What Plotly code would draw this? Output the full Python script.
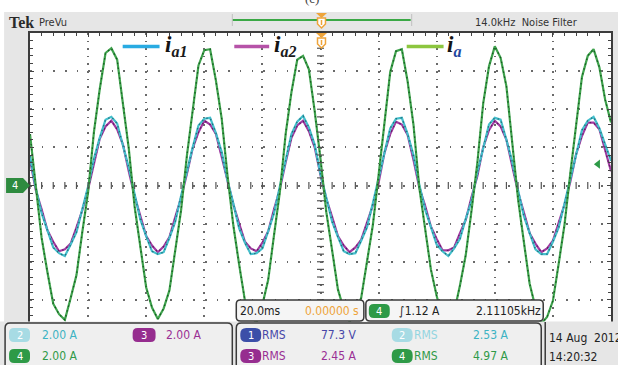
import plotly.graph_objects as go

# ---------------- data ----------------
T_START_MS = -100          # left edge of the screen (trigger at centre)
T_STEP_MS = 2              # sample spacing of the values below

# ch4 : i_a  (A)
ia = [2.7, -0.2, -2.75, -4.55, -6.2, -6.75, -7.05, -5.9, -4.7, -2.45,
      -0.35, 2.8, 5.05, 6.95, 7.2, 6.6, 4.4, 1.95, -1.1, -3.2,
      -5.35, -6.4, -7.0, -6.45, -5.5, -3.4, -1.3, 1.55, 4.05, 6.3,
      7.1, 7.15, 5.5, 3.5, 0.5, -2.1, -4.15, -6.05, -6.85, -7.2,
      -6.25, -4.95, -2.6, -0.35, 2.7, 4.9, 6.6, 6.8, 6.1, 3.9,
      1.4, -1.4, -3.4, -5.45, -6.5, -7.15, -6.7, -5.9, -4.0, -2.1,
      0.55, 3.4, 5.95, 7.05, 7.15, 5.45, 3.2, -0.1, -2.2, -4.4,
      -5.8, -6.95, -7.0, -6.65, -5.25, -3.65, -1.3, 1.2, 4.3, 6.25,
      7.3, 6.7, 5.2, 2.25, -0.7, -2.95, -5.15, -6.4, -7.25, -6.9,
      -6.05, -4.1, -2.05, 0.65, 3.25, 5.7, 6.8, 7.15, 6.2, 4.5,
      3.3]

# ch2 : i_a1 (A)
ia1 = [1.55, -0.15, -1.45, -2.35, -3.25, -3.55, -3.7, -3.1, -2.45, -1.25,
       -0.05, 1.4, 2.5, 3.45, 3.6, 3.25, 2.15, 0.95, -0.45, -1.8,
       -2.65, -3.45, -3.6, -3.5, -2.75, -1.9, -0.55, 0.8, 2.0, 3.15,
       3.5, 3.55, 2.75, 1.75, 0.25, -0.95, -2.25, -3.0, -3.6, -3.55,
       -3.3, -2.4, -1.45, -0.05, 1.3, 2.7, 3.35, 3.65, 3.05, 2.15,
       0.6, -0.6, -1.9, -2.7, -3.45, -3.6, -3.55, -2.9, -2.2, -0.95,
       0.3, 1.7, 3.0, 3.5, 3.55, 2.7, 1.6, 0.05, -1.25, -2.15,
       -3.1, -3.45, -3.7, -3.3, -2.8, -1.75, -0.8, 0.7, 2.0, 3.2,
       3.55, 3.45, 2.4, 1.25, -0.25, -1.6, -2.5, -3.35, -3.6, -3.6,
       -2.95, -2.2, -0.95, 0.35, 1.65, 2.9, 3.4, 3.6, 3.0, 2.2,
       1.3]

# ch3 : i_a2 (A)
ia2 = [1.35, -0.25, -1.25, -2.35, -2.95, -3.45, -3.35, -3.05, -2.2, -1.3,
       -0.2, 1.2, 2.45, 3.1, 3.4, 2.95, 2.15, 0.75, -0.55, -1.6,
       -2.65, -3.15, -3.5, -3.2, -2.7, -1.65, -0.65, 0.6, 1.95, 2.8,
       3.4, 3.2, 2.7, 1.5, 0.2, -1.0, -2.0, -2.95, -3.3, -3.45,
       -3.0, -2.4, -1.25, -0.2, 1.2, 2.5, 3.15, 3.4, 2.85, 2.0,
       0.55, -0.7, -1.65, -2.65, -3.15, -3.5, -3.25, -2.85, -1.95, -1.05,
       0.15, 1.7, 2.7, 3.35, 3.2, 2.65, 1.35, -0.1, -1.05, -2.15,
       -2.8, -3.4, -3.4, -3.25, -2.5, -1.8, -0.6, 0.5, 2.0, 2.9,
       3.4, 3.1, 2.4, 1.0, -0.35, -1.4, -2.5, -3.05, -3.5, -3.3,
       -2.9, -1.95, -1.0, 0.2, 1.65, 2.6, 3.3, 3.3, 2.95, 1.85,
       0.75]

t_ms = [T_START_MS + T_STEP_MS * k for k in range(len(ia))]

TIME_PER_DIV_MS = 20.0
AMP_PER_DIV = 2.0
N_DIV_X, N_DIV_Y = 10, 8
TRIGGER_LEVEL_A = 1.12

legend_names = ["a1", "a2", "a"]
scale_labels = ["2.00 A", "2.00 A", "2.00 A"]          # ch2, ch3, ch4
meas_labels = ["77.3 V", "2.53 A", "2.45 A", "4.97 A"]  # ch1..ch4 RMS
header_right = "14.0kHz  Noise Filter"
timebase_label = "20.0ms"
position_label = "0.00000 s"
trigger_label = "∫1.12 A"
freq_label = "2.11105kHz"
date_label = "14 Aug  2012"
time_label = "14:20:32"

# ---------------- styling ----------------
W, H = 618, 365
L, R, T, B = 30, 613, 33, 338   # plot-area pixel box
UI = "Liberation Sans Narrow, DejaVu Sans Condensed, Arial Narrow, sans-serif"
SERIF = "Liberation Serif, Times New Roman, DejaVu Serif, serif"

BG_GRAY = "#e6e6e6"
PANEL = "#efefef"
BORDER = "#3a3a3a"
ORANGE = "#eea43a"
C_GREEN, C_GREEN_DK = "#3fa34d", "#0f4f1a"
C_CYAN, C_CYAN_DK = "#44bfcc", "#1d6470"
C_PURP, C_PURP_DK = "#a23ba3", "#521854"
B_BLUE, B_CYAN, B_PURP, B_GREEN = "#3b4fa8", "#a7dbe4", "#962d8f", "#2e9a47"
T_BLUE, T_CYAN, T_CYANL, T_PURP, T_GREEN = "#4747a8", "#3cb3c3", "#93d5e0", "#9a2f94", "#2f9a48"


def px(x):
    return (x - L) / (R - L)


def py(y):
    return (B - y) / (B - T)


def P(x, y):
    return f"{px(x):.5f},{py(y):.5f}"


def rr_path(x0, y0, x1, y1, r):
    return (f"M{P(x0 + r, y0)} L{P(x1 - r, y0)} Q{P(x1, y0)} {P(x1, y0 + r)} "
            f"L{P(x1, y1 - r)} Q{P(x1, y1)} {P(x1 - r, y1)} L{P(x0 + r, y1)} "
            f"Q{P(x0, y1)} {P(x0, y1 - r)} L{P(x0, y0 + r)} Q{P(x0, y0)} {P(x0 + r, y0)} Z")


def poly_path(pts):
    return "M" + " L".join(P(x, y) for x, y in pts) + " Z"


shapes = []
annotations = []


def add_rrect(x0, y0, x1, y1, r, fill, line=None, lw=0):
    shapes.append(dict(type="path", path=rr_path(x0, y0, x1, y1, r), xref="paper", yref="paper",
                       fillcolor=fill, line=dict(color=line or fill, width=lw), layer="above"))


def add_rect(x0, y0, x1, y1, fill, layer="above"):
    shapes.append(dict(type="rect", x0=px(x0), x1=px(x1), y0=py(y1), y1=py(y0), xref="paper",
                       yref="paper", fillcolor=fill, line=dict(width=0), layer=layer))


def add_poly(pts, fill, line=None, lw=0):
    shapes.append(dict(type="path", path=poly_path(pts), xref="paper", yref="paper",
                       fillcolor=fill, line=dict(color=line or fill, width=lw), layer="above"))


def add_line(x0, y0, x1, y1, color, width):
    shapes.append(dict(type="line", x0=px(x0), x1=px(x1), y0=py(y0), y1=py(y1), xref="paper",
                       yref="paper", line=dict(color=color, width=width), layer="above"))


def txt(x, y, s, size, color, family=UI, xanchor="left", yanchor="middle"):
    annotations.append(dict(x=px(x), y=py(y), xref="paper", yref="paper", text=s, showarrow=False,
                            font=dict(size=size, color=color, family=family),
                            xanchor=xanchor, yanchor=yanchor))


fig = go.Figure()

# waveforms: coloured trace + darker speckle on top
for yv, col, dk in [(ia2, C_PURP, C_PURP_DK), (ia1, C_CYAN, C_CYAN_DK), (ia, C_GREEN, C_GREEN_DK)]:
    fig.add_trace(go.Scatter(x=t_ms, y=yv, mode="lines", line=dict(color=col, width=2.2),
                             hoverinfo="skip"))
    fig.add_trace(go.Scatter(x=t_ms, y=yv, mode="lines", line=dict(color=dk, width=1.3, dash="1.5px,3.5px"),
                             opacity=0.85, hoverinfo="skip"))

half_x = TIME_PER_DIV_MS * N_DIV_X / 2
half_y = AMP_PER_DIV * N_DIV_Y / 2

# centre cross-hair minor marks
ctr_y = [-half_y + AMP_PER_DIV / 5 * k for k in range(N_DIV_Y * 5 + 1)]
ctr_x = [-half_x + TIME_PER_DIV_MS / 5 * k for k in range(N_DIV_X * 5 + 1)]
fig.add_trace(go.Scatter(x=[0] * len(ctr_y), y=ctr_y, mode="markers", hoverinfo="skip",
                         marker=dict(symbol="line-ew", size=5, line=dict(width=1.2, color="#555"))))
fig.add_trace(go.Scatter(x=ctr_x, y=[0] * len(ctr_x), mode="markers", hoverinfo="skip",
                         marker=dict(symbol="line-ns", size=5, line=dict(width=1.2, color="#555"))))

# trigger-level arrow on the right edge
fig.add_trace(go.Scatter(x=[half_x * 0.955], y=[TRIGGER_LEVEL_A], mode="markers", hoverinfo="skip",
                         marker=dict(symbol="triangle-left", size=8, color=B_GREEN)))

axis_common = dict(showline=True, linecolor="#3c3c3c", linewidth=2, mirror="allticks",
                   ticks="inside", ticklen=4, tickwidth=1, tickcolor="#444",
                   showticklabels=False, zeroline=False, gridcolor="#6a6a6a", gridwidth=1.6)

fig.update_layout(
    width=W, height=H,
    margin=dict(l=L, r=W - R, t=T, b=H - B, pad=0),
    paper_bgcolor=BG_GRAY, plot_bgcolor="white",
    showlegend=False,
    xaxis=dict(range=[-half_x, half_x], dtick=TIME_PER_DIV_MS, tick0=-half_x,
               griddash="1.6px,6.02px",
               minor=dict(ticks="inside", ticklen=3, dtick=TIME_PER_DIV_MS / 5, tick0=-half_x,
                          tickcolor="#444", showgrid=False),
               **axis_common),
    yaxis=dict(range=[-half_y, half_y], dtick=AMP_PER_DIV, tick0=-half_y,
               griddash="1.6px,10.06px",
               minor=dict(ticks="inside", ticklen=3, dtick=AMP_PER_DIV / 5, tick0=-half_y,
                          tickcolor="#444", showgrid=False),
               **axis_common),
)

# ---- page furniture ----
add_rect(0, -5, W + 5, 12, "white")          # white strip on top
add_rect(-5, -5, 4, H + 5, "white")          # white strip on left
txt(313, -2, "(c)", 13, "#444", SERIF, xanchor="center")

# header
txt(7, 22, "<b>Tek</b>", 16, "#2a2a2a", SERIF)
txt(37, 23, "PreVu", 11, "#333")
txt(475, 22, header_right, 11, "#333")
add_line(233, 20, 412, 20, "#3aa845", 2)
add_line(233, 14, 233, 26, "#c0c0c0", 1)
add_line(413, 14, 413, 26, "#c0c0c0", 1)
for top in (13, 33):
    add_poly([(317, top), (328, top), (322.5, top + 5)], ORANGE)
    add_poly([(318.5, top + 5), (326.5, top + 5), (326.5, top + 11), (322.5, top + 15), (318.5, top + 11)],
             "white", ORANGE, 1.5)
    add_line(322.5, top + 7, 322.5, top + 12, ORANGE, 1.5)

# legend inside graticule
leg = [(123, 160, "#29abe2", 163, legend_names[0], "#1a1a1a"),
       (235, 270, "#b653a8", 273, legend_names[1], "#1a1a1a"),
       (408, 445, "#8cc63f", 446, legend_names[2], "#1f47a0")]
for x0, x1, col, xt, sub, subcol in leg:
    add_line(x0, 46.5, x1, 46.5, col, 3.5)
    txt(xt, 46, f"<b><i>i</i></b><sub><b><i><span style='color:{subcol}'>{sub}</span></i></b></sub>",
        23, "#141414", SERIF)

# ch4 ground marker
add_poly([(6, 178), (23, 178), (30, 185.5), (23, 193), (6, 193)], "#2e8b3f")
txt(15, 185.5, "4", 11, "white", xanchor="center")

# bottom gray area + panels
add_rect(-5, 321.5, W + 5, H + 5, BG_GRAY)
add_rrect(5, 323, 233, 372, 5, PANEL, BORDER, 1.5)
add_rrect(237, 323, 543, 372, 5, PANEL, BORDER, 1.5)
add_line(547, 322, 547, H + 2, BORDER, 1.5)
add_rrect(237, 300, 365, 321, 4, "#f5f5f5", BORDER, 1.5)
add_rrect(367, 300, 545, 321, 4, "#f5f5f5", BORDER, 1.5)

# timebase / trigger boxes
txt(239, 311, timebase_label, 12, "#222")
txt(362, 311, position_label, 12, ORANGE, xanchor="right")
add_rrect(370, 304, 391, 318, 5, B_GREEN)
txt(380.5, 311, "4", 11, "white", xanchor="center")
txt(398, 311, trigger_label, 12, "#222")
txt(545, 311, freq_label, 12, "#222", xanchor="right")

# channel scale panel
add_rrect(9, 328, 30, 342, 5, B_CYAN)
txt(19.5, 335, "2", 11, "white", xanchor="center")
txt(40, 335, scale_labels[0], 12, T_CYAN)
add_rrect(133, 328, 156, 342, 5, B_PURP)
txt(144.5, 335, "3", 11, "white", xanchor="center")
txt(164, 335, scale_labels[1], 12, T_PURP)
add_rrect(9, 349, 30, 363, 5, B_GREEN)
txt(19.5, 356, "4", 11, "white", xanchor="center")
txt(40, 356, scale_labels[2], 12, T_GREEN)

# measurement panel
meas = [(241, 335, B_BLUE, "1", T_BLUE, T_BLUE, 320, meas_labels[0]),
        (393, 335, B_CYAN, "2", T_CYANL, T_CYAN, 473, meas_labels[1]),
        (241, 356, B_PURP, "3", T_PURP, T_PURP, 320, meas_labels[2]),
        (393, 356, B_GREEN, "4", T_GREEN, T_GREEN, 473, meas_labels[3])]
for xb, yc, bcol, num, lcol, vcol, xv, val in meas:
    add_rrect(xb, yc - 7, xb + 21, yc + 7, 6, bcol)
    txt(xb + 10.5, yc, num, 11, "white", xanchor="center")
    txt(xb + 20, yc, "RMS", 12, lcol)
    txt(xv, yc, val, 12, vcol)

# date / time
txt(549, 338, date_label, 12, "#222")
txt(549, 357, time_label, 12, "#222")

fig.update_layout(shapes=shapes, annotations=annotations)

fig.write_html("out.html", config={"displayModeBar": False},
               post_script="document.body.style.margin='0';")
